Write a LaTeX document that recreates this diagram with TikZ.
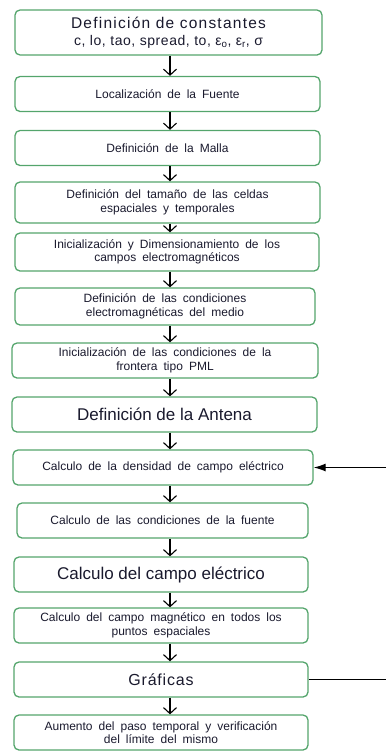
\documentclass[tikz,border=0pt]{standalone}
\usepackage{fontspec}
\setmainfont{Liberation Sans}
\newfontfamily\boxfont[WordSpace=1.8]{Liberation Sans}
\usetikzlibrary{positioning,arrows.meta}
\definecolor{boxgreen}{RGB}{84,165,108}
\definecolor{textdark}{RGB}{25,25,45}

\begin{document}
\begin{tikzpicture}[
  x=1pt,y=1pt,
  stepbox/.style={draw=boxgreen,line width=1.3pt,rounded corners=5pt,align=center,
    inner sep=1pt,minimum height=35pt,text=textdark,
    font=\boxfont\fontsize{12}{13.5}\selectfont},
  bigbox/.style={stepbox,font=\fontsize{17}{19}\selectfont},
  flow/.style={-{Straight Barb[length=6pt,width=13pt]},line width=1.1pt},
  back/.style={line width=1.3pt}
]
\useasboundingbox (0,0) rectangle (386,-753);

\node[stepbox,minimum width=307pt,minimum height=45pt,font=\fontsize{14}{16.5}\selectfont] (constantes) at (168.5,-32.5)
  {{\fontsize{15.5}{16.5}\selectfont\addfontfeature{LetterSpace=8}Definición de constantes}\\
   \addfontfeature{LetterSpace=4}c, lo, tao, spread, to, ε\textsubscript{o}, ε\textsubscript{r}, σ};
\node[stepbox,minimum width=305pt] (fuente) at (167.5,-94) {Localización de la Fuente};
\node[stepbox,minimum width=305pt] (malla) at (167.5,-148) {Definición de la Malla};
\node[stepbox,minimum width=305pt,minimum height=41pt] (celdas) at (167.5,-202.5)
  {Definición del tamaño de las celdas\\ espaciales y temporales};
\node[stepbox,minimum width=304pt,minimum height=38pt] (campos) at (167,-252)
  {Inicialización y Dimensionamiento de los\\ campos electromagnéticos};
\node[stepbox,minimum width=300pt,minimum height=37pt] (medio) at (165,-306.5)
  {Definición de las condiciones\\ electromagnéticas del medio};
\node[stepbox,minimum width=306pt] (pml) at (165,-360.5)
  {Inicialización de las condiciones de la\\ frontera tipo PML};
\node[bigbox,minimum width=305pt] (antena) at (164.5,-414.5) {Definición de la Antena};
\node[stepbox,minimum width=300pt] (densidad) at (163,-467.5) {Calculo de la densidad de campo eléctrico};
\node[stepbox,minimum width=291pt] (condfuente) at (162.5,-520.5) {Calculo de las condiciones de la fuente};
\node[bigbox,minimum width=294pt] (electrico) at (161,-574.5) {Calculo del campo eléctrico};
\node[stepbox,minimum width=294pt] (magnetico) at (161,-625.5)
  {Calculo del campo magnético en todos los\\ puntos espaciales};
\node[bigbox,minimum width=294pt,font=\fontsize{16}{19}\selectfont\addfontfeature{LetterSpace=5}] (graficas) at (161,-679.5) {Gráficas};
\node[stepbox,minimum width=294pt] (paso) at (161,-732.5)
  {Aumento del paso temporal y verificación\\ del límite del mismo};

\coordinate (retorno) at (386,-467.5);
\coordinate (salida) at (386,-679.5);

% flujo principal
\foreach \a/\b in {constantes/fuente,fuente/malla,malla/celdas,celdas/campos,
  campos/medio,medio/pml,pml/antena,antena/densidad,densidad/condfuente,
  condfuente/electrico,electrico/magnetico,magnetico/graficas,graficas/paso}
  \draw[flow] (170,0 |- \a.south) -- (170,0 |- \b.north);

% lazo temporal
\draw[back,-{Latex[length=12pt,width=8pt]}] (retorno) -- (densidad.east);
\draw[back] (graficas.east) -- (salida);
\end{tikzpicture}
\end{document}
